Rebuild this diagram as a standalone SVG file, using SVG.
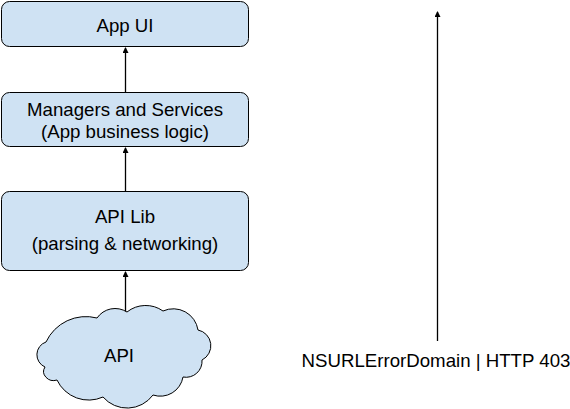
<svg xmlns="http://www.w3.org/2000/svg" width="570" height="409" viewBox="0 0 570 409">
<defs>
<style>
.box{fill:#cfe2f3;stroke:#000;stroke-width:1}
.t{font-family:"Liberation Sans",Arial,sans-serif;font-size:18.67px;fill:#000;text-anchor:middle}
.c{stroke:#000;stroke-width:1.3;fill:none;marker-end:url(#ah)}
</style>
<marker id="ah" markerWidth="6" markerHeight="6" refX="5" refY="3" orient="auto" markerUnits="userSpaceOnUse">
<path d="M0,0 L6,3 L0,6 Z" fill="#000"/>
</marker>
</defs>
<rect width="570" height="409" fill="#fff"/>
<g id="connectors">
<line class="c" x1="125.5" y1="92" x2="125.5" y2="48"/>
<line class="c" x1="125.5" y1="191" x2="125.5" y2="148"/>
<line class="c" x1="125.5" y1="312" x2="125.5" y2="272"/>
<line class="c" x1="437.5" y1="341" x2="437.5" y2="12"/>
</g>
<g id="app-ui">
<rect class="box" x="1.5" y="1.5" width="247" height="45" rx="8"/>
<text class="t" x="125" y="32">App UI</text>
</g>
<g id="managers">
<rect class="box" x="1.5" y="92.5" width="247" height="54" rx="8"/>
<text class="t" x="125" y="116">Managers and Services</text>
<text class="t" x="125" y="138">(App business logic)</text>
</g>
<g id="api-lib">
<rect class="box" x="1.5" y="191.5" width="247" height="79" rx="8"/>
<text class="t" x="125" y="223">API Lib</text>
<text class="t" x="125" y="250">(parsing &amp; networking)</text>
</g>
<g id="api">
<path class="box" d="M57 380 A10 9 0 0 1 45 367 A13.4 13.4 0 0 1 46 342 A44 44 0 0 1 97 318 A22 22 0 0 1 127 312 A30 30 0 0 1 163 311 A25 25 0 0 1 198 330 A16 16 0 0 1 202 360 A16 16 0 0 1 183 377 A23 23 0 0 1 153 395 A32 32 0 0 1 103 397 A35 35 0 0 1 57 380 Z"/>
<text class="t" x="119" y="362">API</text>
</g>
<g id="error-label">
<text class="t" x="436" y="367">NSURLErrorDomain | HTTP 403</text>
</g>
</svg>
